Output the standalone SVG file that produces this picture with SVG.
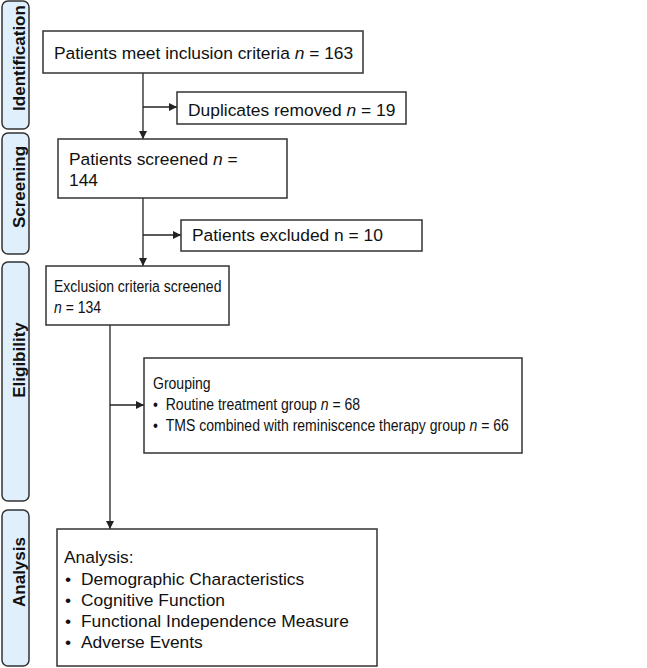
<svg xmlns="http://www.w3.org/2000/svg" width="647" height="668" viewBox="0 0 647 668">
<style>
.side{fill:#dfeffb;stroke:#333;stroke-width:1.5}
.sl{font-family:"Liberation Sans",Arial,sans-serif;font-weight:bold;font-size:17px;fill:#111;text-anchor:middle}
.box{fill:#fff;stroke:#333;stroke-width:1.5}
.t{font-family:"Liberation Sans",Arial,sans-serif;font-size:17.4px;fill:#111}
.c{font-family:"Liberation Sans",Arial,sans-serif;font-size:16.5px;fill:#111}
.ln{stroke:#222;stroke-width:1.3;fill:none}
</style>
<defs>
<marker id="ah" viewBox="0 0 10 10" refX="10" refY="5" markerWidth="8" markerHeight="8" markerUnits="userSpaceOnUse" orient="auto">
<path d="M0,0 L10,5 L0,10 z" fill="#222"/>
</marker>
</defs>
<g id="phases">
<g id="ph-identification"><rect class="side" x="2" y="1" width="27" height="128" rx="6"/><text class="sl" transform="translate(25,58) rotate(-90)">Identification</text></g>
<g id="ph-screening"><rect class="side" x="2" y="133" width="27" height="121" rx="6"/><text class="sl" transform="translate(25,187) rotate(-90)">Screening</text></g>
<g id="ph-eligibility"><rect class="side" x="2" y="262" width="27" height="239" rx="6"/><text class="sl" transform="translate(25,360) rotate(-90)">Eligibility</text></g>
<g id="ph-analysis"><rect class="side" x="2" y="510" width="27" height="156" rx="6"/><text class="sl" transform="translate(25,572) rotate(-90)">Analysis</text></g>
</g>
<g id="connectors">
<line class="ln" x1="143" y1="73" x2="143" y2="139" marker-end="url(#ah)"/>
<line class="ln" x1="143" y1="107" x2="177" y2="107" marker-end="url(#ah)"/>
<line class="ln" x1="143" y1="198" x2="143" y2="266" marker-end="url(#ah)"/>
<line class="ln" x1="143" y1="235" x2="181" y2="235" marker-end="url(#ah)"/>
<line class="ln" x1="110" y1="325" x2="110" y2="529" marker-end="url(#ah)"/>
<line class="ln" x1="110" y1="405" x2="144" y2="405" marker-end="url(#ah)"/>
</g>
<g id="n-inclusion"><rect class="box" x="43" y="31" width="320" height="42"/><text class="t" x="54" y="59">Patients meet inclusion criteria <tspan font-style="italic">n</tspan> = 163</text></g>
<g id="n-duplicates"><rect class="box" x="177" y="92" width="229" height="32"/><text class="t" x="188" y="116">Duplicates removed <tspan font-style="italic">n</tspan> = 19</text></g>
<g id="n-screened"><rect class="box" x="58" y="139" width="229" height="59"/><text class="t" x="69" y="165">Patients screened <tspan font-style="italic">n</tspan> =</text><text class="t" x="69" y="186">144</text></g>
<g id="n-excluded"><rect class="box" x="181" y="220" width="241" height="31"/><text class="t" x="192" y="241">Patients excluded n = 10</text></g>
<g id="n-exclusion"><rect class="box" x="46" y="266" width="183" height="59"/>
<g transform="translate(54,0) scale(0.85,1)"><text class="c" x="0" y="292">Exclusion criteria screened</text><text class="c" x="0" y="313"><tspan font-style="italic">n</tspan> = 134</text></g></g>
<g id="n-grouping"><rect class="box" x="144" y="358" width="378" height="95"/>
<g transform="translate(153,0) scale(0.85,1)"><text class="c" x="0" y="389">Grouping</text><text class="c" x="0" y="410">•</text><text class="c" x="15" y="410">Routine treatment group <tspan font-style="italic">n</tspan> = 68</text><text class="c" x="0" y="431">•</text><text class="c" x="15" y="431">TMS combined with reminiscence therapy group <tspan font-style="italic">n</tspan> = 66</text></g></g>
<g id="n-analysis"><rect class="box" x="57" y="529" width="320" height="137"/><text class="t" x="64" y="563">Analysis:</text><text class="t" x="65" y="585">•</text><text class="t" x="81" y="585">Demographic Characteristics</text><text class="t" x="65" y="606">•</text><text class="t" x="81" y="606">Cognitive Function</text><text class="t" x="65" y="627">•</text><text class="t" x="81" y="627">Functional Independence Measure</text><text class="t" x="65" y="648">•</text><text class="t" x="81" y="648">Adverse Events</text></g>
</svg>
